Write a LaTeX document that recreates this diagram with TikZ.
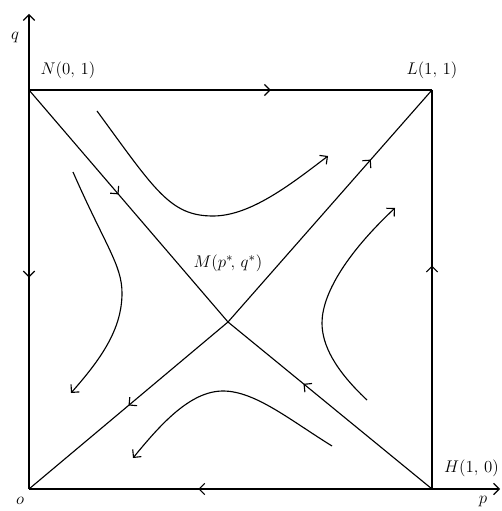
\documentclass[tikz,border=0pt]{standalone}
\usetikzlibrary{arrows.meta,decorations.markings}

\tikzset{
  barb/.tip={Straight Barb[length=4pt,width=8pt]},
  orbit/.style={line width=0.8pt, -barb},
  midarrow/.style={postaction={decorate}, decoration={markings,
    mark=at position #1 with {\arrow{barb}}}},
  lbl/.style={font=\fontsize{13}{15}\selectfont, inner sep=0.5pt}
}

\begin{document}
\begin{tikzpicture}[x=0.025cm, y=-0.025cm, line width=0.8pt]
  \useasboundingbox (0,0) rectangle (501,511);

  % corners and saddle point
  \coordinate (O) at (29,489);
  \coordinate (N) at (29,90);
  \coordinate (L) at (432,90);
  \coordinate (H) at (432,489);
  \coordinate (M) at (228,322);
  \coordinate (qtip) at (29,14);
  \coordinate (ptip) at (500,489);

  % axes
  \draw[-barb] (O) -- (qtip);
  \draw[-barb] (O) -- (ptip);

  % edges of the square
  \draw[midarrow=0.6] (N) -- (L);
  \draw[midarrow=0.56] (H) -- (L);
  \draw[midarrow=0.47] (N) -- (O);
  \draw[midarrow=0.58] (H) -- (O);

  % separatrices through M
  \draw[midarrow=0.45] (N) -- (M);
  \draw[midarrow=0.5] (M) -- (O);
  \draw[midarrow=0.63] (H) -- (M);
  \draw[midarrow=0.7] (M) -- (L);

  % trajectories
  \draw[orbit] (97,111) .. controls (155,190) and (170,216) .. (213,216)
    .. controls (250,216) and (290,185) .. (328,156);
  \draw[orbit] (73,172) .. controls (105,245) and (122,265) .. (122,293)
    .. controls (122,330) and (100,360) .. (71,393);
  \draw[orbit] (367,400) .. controls (335,370) and (322,345) .. (322,323)
    .. controls (322,295) and (345,255) .. (395,208);
  \draw[orbit] (332,446) .. controls (290,420) and (255,391) .. (223,391)
    .. controls (190,391) and (160,425) .. (133,458);

  % labels
  \node[lbl] (qlbl) at (15,38) {$q$};
  \node[lbl] (plbl) at (483,502) {$p$};
  \node[lbl] (olbl) at (20,501) {$o$};
  \node[lbl] (Nlbl) at (68,70) {$N(0,\,1)$};
  \node[lbl] (Llbl) at (432,70) {$L(1,\,1)$};
  \node[lbl, anchor=east] (Hlbl) at (500,468) {$H(1,\,0)$};
  \node[lbl] (Mlbl) at (228,263) {$M(p^*\!,\,q^*)$};
\end{tikzpicture}
\end{document}
